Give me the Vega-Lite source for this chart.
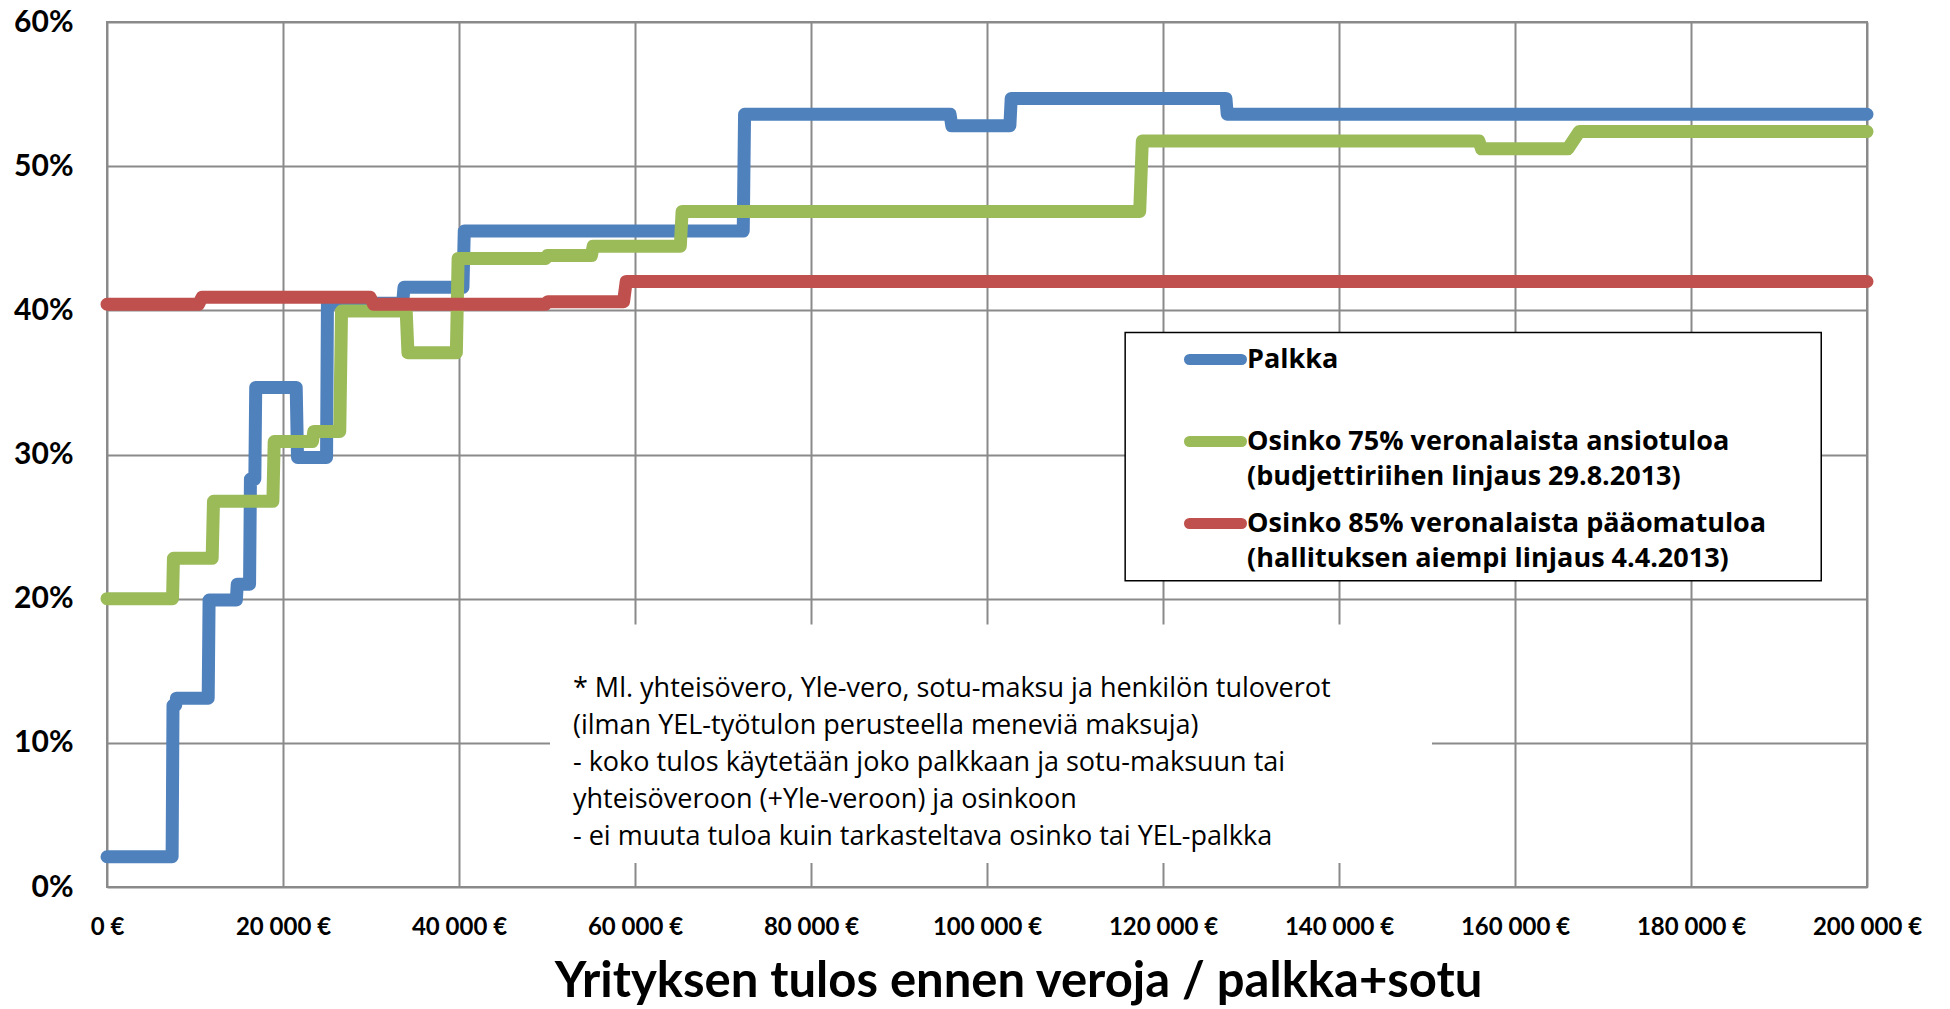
{
  "$schema": "https://vega.github.io/schema/vega-lite/v6.json",
  "width": 1760,
  "height": 865,
  "autosize": {"type": "none"},
  "padding": {"left": 107, "top": 22, "right": 83, "bottom": 122},
  "background": "white",
  "config": {
    "view": {"stroke": "#8a8a8a", "strokeWidth": 2},
    "font": "Lato",
    "style": {"guide-label": {"lineHeight": 35}}
  },
  "datasets": {
    "series": [
      {"s": "Palkka", "x": 0, "y": 2.1}, {"s": "Palkka", "x": 7400, "y": 2.1},
      {"s": "Palkka", "x": 7500, "y": 12.6}, {"s": "Palkka", "x": 7800, "y": 12.6},
      {"s": "Palkka", "x": 7900, "y": 13.1}, {"s": "Palkka", "x": 11500, "y": 13.1},
      {"s": "Palkka", "x": 11600, "y": 19.9}, {"s": "Palkka", "x": 14700, "y": 19.9},
      {"s": "Palkka", "x": 14800, "y": 21.0}, {"s": "Palkka", "x": 16200, "y": 21.0},
      {"s": "Palkka", "x": 16300, "y": 28.3}, {"s": "Palkka", "x": 16800, "y": 28.3},
      {"s": "Palkka", "x": 16900, "y": 34.65}, {"s": "Palkka", "x": 21500, "y": 34.65},
      {"s": "Palkka", "x": 21650, "y": 29.8}, {"s": "Palkka", "x": 24950, "y": 29.8},
      {"s": "Palkka", "x": 25050, "y": 40.5}, {"s": "Palkka", "x": 33600, "y": 40.5},
      {"s": "Palkka", "x": 33750, "y": 41.6}, {"s": "Palkka", "x": 40450, "y": 41.6},
      {"s": "Palkka", "x": 40600, "y": 45.5}, {"s": "Palkka", "x": 72300, "y": 45.5},
      {"s": "Palkka", "x": 72450, "y": 53.6}, {"s": "Palkka", "x": 95800, "y": 53.6},
      {"s": "Palkka", "x": 96000, "y": 52.8}, {"s": "Palkka", "x": 102600, "y": 52.8},
      {"s": "Palkka", "x": 102750, "y": 54.7}, {"s": "Palkka", "x": 127150, "y": 54.7},
      {"s": "Palkka", "x": 127300, "y": 53.6}, {"s": "Palkka", "x": 200000, "y": 53.6},
      {"s": "O75", "x": 0, "y": 20.0}, {"s": "O75", "x": 7450, "y": 20.0},
      {"s": "O75", "x": 7550, "y": 22.8}, {"s": "O75", "x": 11950, "y": 22.8},
      {"s": "O75", "x": 12100, "y": 26.75}, {"s": "O75", "x": 18850, "y": 26.75},
      {"s": "O75", "x": 19000, "y": 30.9}, {"s": "O75", "x": 23350, "y": 30.9},
      {"s": "O75", "x": 23500, "y": 31.6}, {"s": "O75", "x": 26450, "y": 31.6},
      {"s": "O75", "x": 26650, "y": 39.95}, {"s": "O75", "x": 34000, "y": 39.95},
      {"s": "O75", "x": 34200, "y": 37.05}, {"s": "O75", "x": 39700, "y": 37.05},
      {"s": "O75", "x": 39900, "y": 43.6}, {"s": "O75", "x": 49850, "y": 43.6},
      {"s": "O75", "x": 50050, "y": 43.8}, {"s": "O75", "x": 55050, "y": 43.8},
      {"s": "O75", "x": 55250, "y": 44.45}, {"s": "O75", "x": 65150, "y": 44.45},
      {"s": "O75", "x": 65350, "y": 46.85}, {"s": "O75", "x": 117350, "y": 46.85},
      {"s": "O75", "x": 117650, "y": 51.75}, {"s": "O75", "x": 155900, "y": 51.75},
      {"s": "O75", "x": 156200, "y": 51.2}, {"s": "O75", "x": 166000, "y": 51.2},
      {"s": "O75", "x": 167300, "y": 52.4}, {"s": "O75", "x": 200000, "y": 52.4},
      {"s": "O85", "x": 0, "y": 40.42}, {"s": "O85", "x": 10400, "y": 40.42},
      {"s": "O85", "x": 10800, "y": 40.9}, {"s": "O85", "x": 29900, "y": 40.9},
      {"s": "O85", "x": 30300, "y": 40.42}, {"s": "O85", "x": 49800, "y": 40.42},
      {"s": "O85", "x": 50100, "y": 40.6}, {"s": "O85", "x": 58700, "y": 40.6},
      {"s": "O85", "x": 59000, "y": 42.0}, {"s": "O85", "x": 200000, "y": 42.0}
    ]
  },
  "layer": [
    {
      "data": {"values": [{"box": "note"}]},
      "mark": {"type": "rect", "fill": "white", "strokeWidth": 0},
      "encoding": {
        "x": {
          "datum": 50340, "type": "quantitative",
          "scale": {"domain": [0, 200000], "nice": false},
          "axis": {
            "values": [0, 20000, 40000, 60000, 80000, 100000, 120000, 140000, 160000, 180000, 200000],
            "labelExpr": "replace(format(datum.value, ','), ',', ' ') + ' €'",
            "labelFont": "Lato", "labelFontSize": 24, "labelFontWeight": "bold", "labelColor": "black",
            "labelPadding": 28, "labelFlush": false, "labelOverlap": false,
            "domain": false, "ticks": false,
            "grid": true, "gridColor": "#8a8a8a", "gridWidth": 2,
            "title": "Yrityksen tulos ennen veroja / palkka+sotu",
            "titleFont": "Lato", "titleFontSize": 49, "titleFontWeight": "bold", "titleColor": "black",
            "titlePadding": 18, "titleX": 911
          }
        },
        "x2": {"datum": 150570},
        "y": {
          "datum": 18.2, "type": "quantitative",
          "scale": {"domain": [0, 60], "nice": false},
          "axis": {
            "values": [0, 10, 20, 30, 40, 50, 60],
            "labelExpr": "datum.value + '%'",
            "labelFont": "Lato", "labelFontSize": 30, "labelFontWeight": "bold", "labelColor": "black",
            "labelPadding": 34, "labelFlush": false,
            "domain": false, "ticks": false,
            "grid": true, "gridColor": "#8a8a8a", "gridWidth": 2,
            "title": null
          }
        },
        "y2": {"datum": 1.67}
      }
    },
    {
      "data": {"values": [{"text": "* Ml. yhteisövero, Yle-vero, sotu-maksu ja henkilön tuloverot\n(ilman YEL-työtulon perusteella meneviä maksuja)\n- koko tulos käytetään joko palkkaan ja sotu-maksuun tai\nyhteisöveroon (+Yle-veroon) ja osinkoon\n- ei muuta tuloa kuin tarkasteltava osinko tai YEL-palkka"}]},
      "mark": {"type": "text", "align": "left", "baseline": "alphabetic", "lineBreak": "\n", "lineHeight": 37, "font": "Open Sans", "fontSize": 27, "color": "black"},
      "encoding": {
        "x": {"datum": 52950, "type": "quantitative"},
        "y": {"datum": 13.2, "type": "quantitative"},
        "text": {"field": "text", "type": "nominal"}
      }
    },
    {
      "data": {"values": [{"box": "legend"}]},
      "mark": {"type": "rect", "fill": "white", "stroke": "black", "strokeWidth": 1.5},
      "encoding": {
        "x": {"datum": 115700, "type": "quantitative"},
        "x2": {"datum": 194800},
        "y": {"datum": 38.47, "type": "quantitative"},
        "y2": {"datum": 21.25}
      }
    },
    {
      "data": {"name": "series"},
      "transform": [{"filter": "datum.s === 'Palkka'"}],
      "mark": {"type": "line", "strokeWidth": 13, "strokeCap": "round", "strokeJoin": "round"},
      "encoding": {
        "x": {"field": "x", "type": "quantitative"},
        "y": {"field": "y", "type": "quantitative"},
        "color": {"field": "s", "type": "nominal"}
      }
    },
    {
      "data": {"name": "series"},
      "transform": [{"filter": "datum.s === 'O75'"}],
      "mark": {"type": "line", "strokeWidth": 13, "strokeCap": "round", "strokeJoin": "round"},
      "encoding": {
        "x": {"field": "x", "type": "quantitative"},
        "y": {"field": "y", "type": "quantitative"},
        "color": {"field": "s", "type": "nominal"}
      }
    },
    {
      "data": {"name": "series"},
      "transform": [{"filter": "datum.s === 'O85'"}],
      "mark": {"type": "line", "strokeWidth": 13, "strokeCap": "round", "strokeJoin": "round"},
      "encoding": {
        "x": {"field": "x", "type": "quantitative"},
        "y": {"field": "y", "type": "quantitative"},
        "color": {
          "field": "s", "type": "nominal",
          "scale": {"domain": ["Palkka", "O75", "O85"], "range": ["#4F81BD", "#9BBB59", "#C0504D"]},
          "legend": {
            "title": null,
            "orient": "none", "legendX": 1077, "legendY": 306,
            "padding": 0,
            "symbolType": "stroke", "symbolSize": 2704, "symbolStrokeWidth": 11,
            "labelExpr": "datum.value === 'Palkka' ? ['Palkka', ' '] : datum.value === 'O75' ? ['Osinko 75% veronalaista ansiotuloa', '(budjettiriihen linjaus 29.8.2013)'] : ['Osinko 85% veronalaista pääomatuloa', '(hallituksen aiempi linjaus 4.4.2013)']",
            "labelFont": "Open Sans", "labelFontSize": 27, "labelFontWeight": "bold", "labelColor": "black",
            "labelLimit": 700, "labelOffset": 0, "rowPadding": 2,
            "encode": {"symbols": {"update": {"strokeCap": {"value": "round"}}}}
          }
        }
      }
    }
  ]
}
